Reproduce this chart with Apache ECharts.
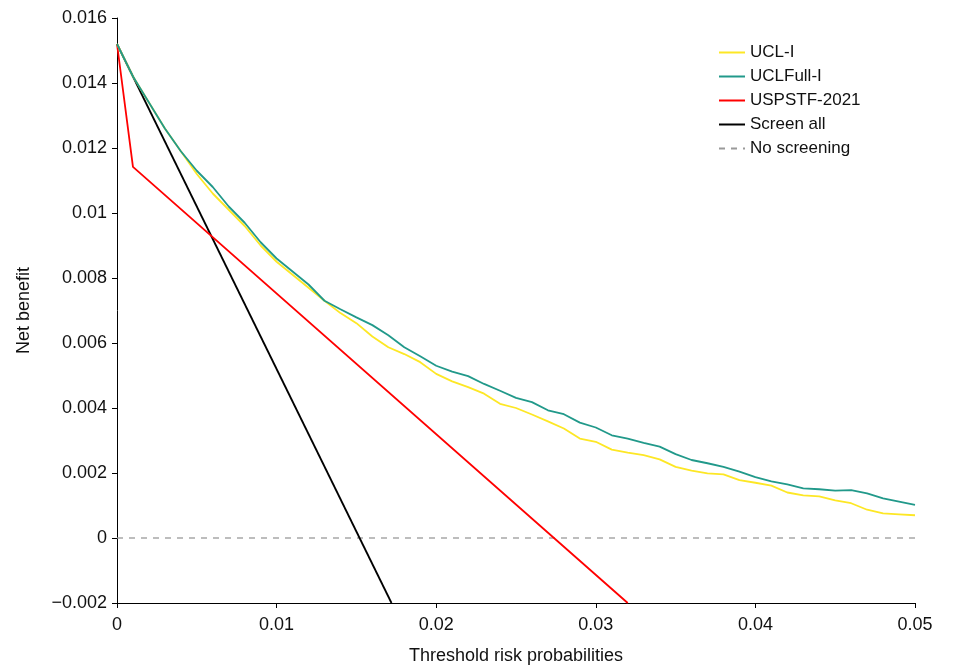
<!DOCTYPE html>
<html>
<head>
<meta charset="utf-8">
<script src="https://cdn.jsdelivr.net/npm/echarts@6/dist/echarts.min.js"></script>
<style>html,body{margin:0;padding:0;background:#fff;}#chart{width:955px;height:670px;}</style>
</head>
<body>
<div id="chart"></div>
<script>
const thresholds = [0,0.001,0.002,0.003,0.004,0.005,0.006,0.007,0.008,0.009,
  0.010,0.011,0.012,0.013,0.014,0.015,0.016,0.017,0.018,0.019,
  0.020,0.021,0.022,0.023,0.024,0.025,0.026,0.027,0.028,0.029,
  0.030,0.031,0.032,0.033,0.034,0.035,0.036,0.037,0.038,0.039,
  0.040,0.041,0.042,0.043,0.044,0.045,0.046,0.047,0.048,0.049,0.050];
const uclI = [0.0152,0.0142,0.0134,0.0126,0.0119,0.0112,0.0106,0.0101,0.0096,0.0090,
  0.0085,0.0081,0.0077,0.0073,0.00692,0.00661,0.0062,0.00587,0.00566,0.00541,
  0.00505,0.00482,0.00464,0.00444,0.00413,0.0040,0.0038,0.00359,0.00337,0.00306,
  0.00296,0.00272,0.00263,0.00255,0.00242,0.00219,0.00207,0.00199,0.00196,0.00178,
  0.0017,0.00161,0.0014,0.00131,0.00128,0.00116,0.00107,0.00087,0.00076,0.00073,0.0007];
const uclFullI = [0.0152,0.0142,0.0134,0.0126,0.0119,0.0113,0.0108,0.0102,0.0097,0.0091,
  0.0086,0.0082,0.0078,0.0073,0.00704,0.00679,0.00655,0.00624,0.00587,0.00559,
  0.0053,0.00512,0.00498,0.00474,0.00453,0.00431,0.00418,0.00393,0.00381,0.00355,
  0.0034,0.00316,0.00306,0.00293,0.00281,0.00258,0.0024,0.0023,0.00219,0.00204,
  0.00187,0.00174,0.00165,0.00153,0.0015,0.00146,0.00147,0.00137,0.00122,0.00112,0.00102];
const uspstfX = [0, 0.001, 0.032];
const uspstfY = [0.0152, 0.01142, -0.002];
const screenAllX = [0, 0.0172];
const screenAllY = [0.0152, -0.002];
const noScreenX = [0, 0.05];
const noScreenY = [0, 0];
const xTickValues = [0, 0.01, 0.02, 0.03, 0.04, 0.05];
const xTickLabels = ['0', '0.01', '0.02', '0.03', '0.04', '0.05'];
const yTickValues = [-0.002, 0, 0.002, 0.004, 0.006, 0.008, 0.01, 0.012, 0.014, 0.016];
const yTickLabels = ['\u22120.002', '0', '0.002', '0.004', '0.006', '0.008', '0.01', '0.012', '0.014', '0.016'];
const seriesNames = ['UCL-I', 'UCLFull-I', 'USPSTF-2021', 'Screen all', 'No screening'];

function pairs(xs, ys) { return xs.map((x, i) => [x, ys[i]]); }
function lookup(vals, labels, v) {
  for (let i = 0; i < vals.length; i++) if (Math.abs(vals[i] - v) < 1e-9) return labels[i];
  return '';
}
const FONT = '"Liberation Sans", Arial, sans-serif';
const chart = echarts.init(document.getElementById('chart'));
chart.setOption({
  animation: false,
  backgroundColor: '#ffffff',
  textStyle: { fontFamily: FONT },
  grid: { left: 117, right: 40, top: 18, bottom: 64, containLabel: false },
  legend: {
    orient: 'vertical', left: 713, top: 39,
    itemWidth: 26, itemHeight: 14, itemGap: 7,
    itemStyle: { color: 'rgba(0,0,0,0)', borderWidth: 0, opacity: 0 },
    textStyle: { fontFamily: FONT, fontSize: 17, color: '#111' },
    data: seriesNames
  },
  xAxis: {
    type: 'value', min: 0, max: 0.05, interval: 0.01,
    name: 'Threshold risk probabilities', nameLocation: 'middle', nameGap: 44,
    nameTextStyle: { fontFamily: FONT, fontSize: 18, color: '#111' },
    axisLine: { show: true, onZero: false, lineStyle: { color: '#000', width: 1 } },
    axisTick: { show: true, length: 5, lineStyle: { color: '#000' } },
    axisLabel: { fontFamily: FONT, fontSize: 18, color: '#111', margin: 13,
      formatter: v => lookup(xTickValues, xTickLabels, v) },
    splitLine: { show: false }
  },
  yAxis: {
    type: 'value', min: -0.002, max: 0.016, interval: 0.002,
    name: 'Net benefit', nameLocation: 'middle', nameGap: 84,
    nameTextStyle: { fontFamily: FONT, fontSize: 18, color: '#111' },
    axisLine: { show: true, onZero: false, lineStyle: { color: '#000', width: 1 } },
    axisTick: { show: true, length: 5, lineStyle: { color: '#000' } },
    axisLabel: { fontFamily: FONT, fontSize: 18, color: '#111', margin: 10,
      formatter: v => lookup(yTickValues, yTickLabels, v) },
    splitLine: { show: false }
  },
  series: [
    { name: seriesNames[4], type: 'line', symbol: 'none', clip: true, z: 1,
      data: pairs(noScreenX, noScreenY),
      lineStyle: { color: '#9a9a9a', width: 1.3, type: [6, 6] }, itemStyle: { color: '#9a9a9a' } },
    { name: seriesNames[3], type: 'line', symbol: 'none', clip: true, z: 2,
      data: pairs(screenAllX, screenAllY),
      lineStyle: { color: '#000000', width: 1.8 }, itemStyle: { color: '#000000' } },
    { name: seriesNames[2], type: 'line', symbol: 'none', clip: true, z: 3,
      data: pairs(uspstfX, uspstfY),
      lineStyle: { color: '#ff0000', width: 1.8 }, itemStyle: { color: '#ff0000' } },
    { name: seriesNames[0], type: 'line', symbol: 'none', clip: true, z: 4,
      data: pairs(thresholds, uclI),
      lineStyle: { color: '#fde725', width: 1.8 }, itemStyle: { color: '#fde725' } },
    { name: seriesNames[1], type: 'line', symbol: 'none', clip: true, z: 5,
      data: pairs(thresholds, uclFullI),
      lineStyle: { color: '#21998a', width: 1.8 }, itemStyle: { color: '#21998a' } }
  ]
});
</script>
</body>
</html>
